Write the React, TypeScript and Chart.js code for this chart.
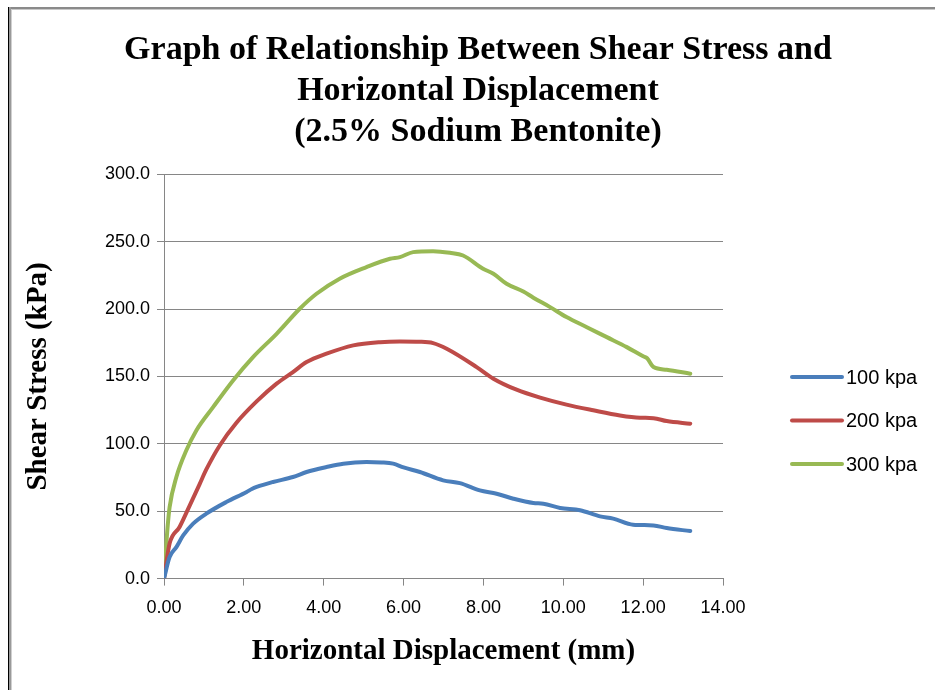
import React, { useEffect, useRef } from "react";
import { Chart, registerables } from "chart.js";

Chart.register(...registerables);

const titleLines = [
  "Graph of Relationship Between Shear Stress and",
  "Horizontal Displacement",
  "(2.5% Sodium Bentonite)",
];
const xAxisTitle = "Horizontal Displacement (mm)";
const yAxisTitle = "Shear Stress (kPa)";

const seriesNames = ["100 kpa", "200 kpa", "300 kpa"];
const seriesColors = ["#4A7EBB", "#BE4B48", "#98B954"];

const x100 = [0, 0.14, 0.31, 0.48, 0.73, 1.06, 1.56, 2.07, 2.2, 2.32, 2.73, 3.23, 3.57, 4.07, 4.49, 5.07, 5.45, 5.74, 6.0, 6.41, 6.99, 7.41, 7.91, 8.33, 8.75, 9.25, 9.5, 9.92, 10.42, 10.92, 11.25, 11.75, 12.26, 12.59, 13.18];
const y100 = [0, 16, 23.4, 32, 40.8, 48.2, 56.8, 64.3, 66.5, 68, 71.7, 75.4, 79.1, 82.8, 85.3, 86.5, 86.2, 85.3, 82.5, 79.1, 72.9, 70.9, 65.5, 63, 59.3, 56.1, 55.6, 52.4, 50.7, 46.2, 44.5, 40, 39.5, 37.5, 35.3];

const x200 = [0, 0.14, 0.39, 0.64, 0.89, 1.06, 1.4, 1.81, 2.32, 2.82, 3.23, 3.57, 4.07, 4.74, 5.41, 5.91, 6.41, 6.74, 7.08, 7.83, 8.25, 8.83, 9.42, 10.08, 10.75, 11.42, 11.92, 12.26, 12.59, 13.18];
const y200 = [0, 26, 38.3, 54, 70, 81, 99, 115.5, 131.5, 144.7, 153.3, 160.7, 166.9, 173.1, 175.5, 176, 175.8, 174.8, 170.6, 157, 148.4, 140.2, 134.3, 129.1, 124.9, 121.1, 119.4, 119.1, 116.9, 115];

const x300 = [0, 0.05, 0.09, 0.14, 0.31, 0.56, 0.81, 1.23, 1.73, 2.23, 2.82, 3.4, 3.82, 4.4, 5.07, 5.66, 5.91, 6.24, 6.74, 7.16, 7.49, 7.99, 8.25, 8.58, 9.0, 9.25, 9.67, 10.08, 10.59, 11.09, 11.59, 12.0, 12.1, 12.26, 12.59, 13.18];
const y300 = [0, 22, 38.3, 53, 75.4, 95.2, 110, 127.3, 147.1, 164.4, 181.7, 200.3, 211.4, 222.6, 231.2, 237.4, 238.6, 242.3, 243, 241.8, 239.8, 230, 226.3, 218.8, 213.1, 208.5, 201.5, 194.1, 186.6, 179.2, 171.8, 165, 163.5, 157, 155, 152.1];

const xMin = 0, xMax = 14, xStep = 2;
const yMin = 0, yMax = 300, yStep = 50;

const zip = (xs: number[], ys: number[]) => xs.map((x, i) => ({ x, y: ys[i] }));

const SANS = "'Liberation Sans', Arial, sans-serif";
const SERIF = "'Liberation Serif', 'Times New Roman', serif";
const GRID = "#868686";

// Excel-style legend drawn to the right of the plot area
const legendPlugin = {
  id: "sideLegend",
  afterDraw(chart: any) {
    const ctx = chart.ctx;
    const area = chart.chartArea;
    const x0 = area.right + 69;
    const x1 = x0 + 50;
    const mid = (area.top + area.bottom) / 2 + 44;
    const gap = 43.5;
    const n = chart.data.datasets.length;
    ctx.save();
    chart.data.datasets.forEach((ds: any, i: number) => {
      const y = mid + (i - (n - 1) / 2) * gap;
      ctx.strokeStyle = ds.borderColor;
      ctx.lineWidth = 4;
      ctx.lineCap = "round";
      ctx.beginPath();
      ctx.moveTo(x0, y);
      ctx.lineTo(x1, y);
      ctx.stroke();
      ctx.fillStyle = "#000";
      ctx.font = `20px ${SANS}`;
      ctx.textBaseline = "middle";
      ctx.textAlign = "left";
      ctx.fillText(ds.label, x1 + 4, y + 1);
    });
    ctx.restore();
  },
};

// invisible right-hand box that reserves room for the legend
const rightReserve = 212;

export default function App() {
  const ref = useRef<HTMLCanvasElement | null>(null);

  useEffect(() => {
    if (!ref.current) return;
    const series = [zip(x100, y100), zip(x200, y200), zip(x300, y300)];
    const chart = new Chart(ref.current, {
      type: "line",
      data: {
        datasets: series.map((d, i) => ({
          label: seriesNames[i],
          data: d,
          borderColor: seriesColors[i],
          backgroundColor: seriesColors[i],
          borderWidth: 4,
          pointRadius: 0,
          fill: false,
          yAxisID: "y",
          cubicInterpolationMode: "monotone" as const,
          borderCapStyle: "round" as const,
          borderJoinStyle: "round" as const,
        })),
      },
      options: {
        animation: false,
        responsive: false,
        maintainAspectRatio: false,
        layout: { padding: { left: 21, right: 0, top: 0, bottom: 21 } },
        plugins: {
          legend: { display: false },
          tooltip: { enabled: false },
          title: {
            display: true,
            text: titleLines,
            color: "#000",
            font: { family: SERIF, size: 34, weight: "bold", lineHeight: 1.2 },
            padding: { top: 30, bottom: 22 },
          },
        },
        scales: {
          x: {
            type: "linear",
            min: xMin,
            max: xMax,
            ticks: {
              stepSize: xStep,
              color: "#000",
              font: { family: SANS, size: 18 },
              padding: 12,
              maxRotation: 0,
              callback: (v: any) => Number(v).toFixed(2),
            },
            grid: { drawOnChartArea: false, drawTicks: true, tickLength: 7, color: GRID },
            border: { display: true, color: GRID, width: 1 },
            title: {
              display: true,
              text: xAxisTitle,
              color: "#000",
              font: { family: SERIF, size: 29, weight: "bold", lineHeight: 1.2 },
              padding: { top: 3, bottom: 0 },
            },
          },
          y: {
            type: "linear",
            position: "left",
            min: yMin,
            max: yMax,
            afterFit: (s: any) => {
              s.width = 143;
            },
            ticks: {
              stepSize: yStep,
              color: "#000",
              font: { family: SANS, size: 18 },
              padding: 7,
              callback: (v: any) => Number(v).toFixed(1),
            },
            grid: { drawOnChartArea: true, drawTicks: true, tickLength: 7, color: GRID },
            border: { display: true, color: GRID, width: 1 },
            title: {
              display: true,
              text: yAxisTitle,
              color: "#000",
              font: { family: SERIF, size: 29, weight: "bold", lineHeight: 1.2 },
              padding: { top: 0, bottom: 0 },
            },
          },
          legendSpace: {
            type: "linear",
            position: "right",
            display: true,
            min: yMin,
            max: yMax,
            afterFit: (s: any) => {
              s.width = rightReserve;
            },
            ticks: { display: false },
            grid: { display: false, drawTicks: false },
            border: { display: false },
            title: { display: false },
          },
        },
      },
      plugins: [legendPlugin],
    });
    return () => chart.destroy();
  }, []);

  return (
    <div style={{ position: "absolute", left: 0, top: 0, width: 935, height: 690, background: "#fff", overflow: "hidden" }}>
      <canvas ref={ref} width={935} height={690} style={{ position: "absolute", left: 0, top: 0, width: 935, height: 690 }} />
      <div style={{ position: "absolute", left: 8, top: 7, right: 0, height: 2, background: "#8a8a8a" }} />
      <div style={{ position: "absolute", left: 8, top: 9, right: 0, height: 1, background: "#c8c8c8" }} />
      <div style={{ position: "absolute", left: 8, top: 7, bottom: 0, width: 1, background: "#000" }} />
      <div style={{ position: "absolute", left: 9, top: 7, bottom: 0, width: 2, background: "#9a9a9a" }} />
      <div style={{ position: "absolute", left: 11, top: 9, bottom: 0, width: 1, background: "#d0d0d0" }} />
    </div>
  );
}
